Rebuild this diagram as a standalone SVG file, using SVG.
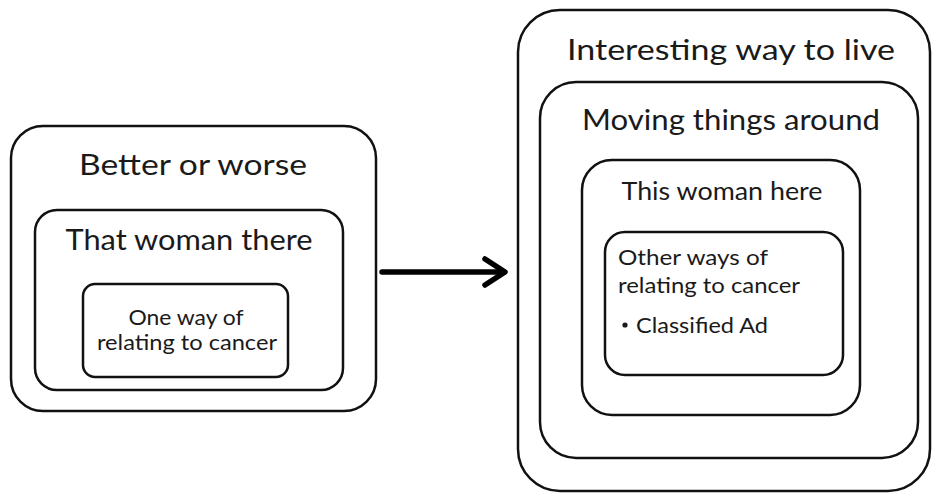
<svg xmlns="http://www.w3.org/2000/svg" width="933" height="493" viewBox="0 0 933 493">
  <style>
    .box { fill: none; stroke: #111; stroke-width: 2.5; }
    text { font-family: Lato, "Open Sans", "Liberation Sans", sans-serif; fill: #1a1a1a; }
    .t1 { font-size: 29px; text-anchor: middle; }
    .t2 { font-size: 25px; text-anchor: middle; }
    .t3 { font-size: 21px; }
    .mid { text-anchor: middle; }
    .conn { fill: none; stroke: #000; stroke-width: 5.5; stroke-linecap: round; stroke-linejoin: round; }
  </style>
  <rect width="933" height="493" fill="#fff"/>

  <!-- left nesting -->
  <g id="better-or-worse">
    <rect class="box" x="11" y="126" width="365" height="285" rx="32"/>
    <text class="t1" x="193" y="175" textLength="228" lengthAdjust="spacingAndGlyphs">Better or worse</text>
  </g>
  <g id="that-woman-there">
    <rect class="box" x="35" y="210" width="308" height="180" rx="22"/>
    <text class="t1" x="189" y="250" textLength="247" lengthAdjust="spacingAndGlyphs">That woman there</text>
  </g>
  <g id="one-way">
    <rect class="box" x="83" y="284" width="205" height="93" rx="12"/>
    <text class="t3 mid" x="186" y="325" textLength="115" lengthAdjust="spacingAndGlyphs">One way of</text>
    <text class="t3 mid" x="187" y="350" textLength="180" lengthAdjust="spacingAndGlyphs">relating to cancer</text>
  </g>

  <!-- right nesting -->
  <g id="interesting-way">
    <rect class="box" x="518" y="10" width="412" height="481" rx="42"/>
    <text class="t1" x="731" y="60" textLength="328" lengthAdjust="spacingAndGlyphs">Interesting way to live</text>
  </g>
  <g id="moving-things">
    <rect class="box" x="540" y="82" width="378" height="376" rx="36"/>
    <text class="t1" x="731" y="130" textLength="298" lengthAdjust="spacingAndGlyphs">Moving things around</text>
  </g>
  <g id="this-woman-here">
    <rect class="box" x="582" y="160" width="278" height="255" rx="30"/>
    <text class="t2" x="722" y="200" textLength="201" lengthAdjust="spacingAndGlyphs">This woman here</text>
  </g>
  <g id="other-ways">
    <rect class="box" x="605" y="232" width="238" height="143" rx="20"/>
    <text class="t3" x="618" y="265" textLength="150" lengthAdjust="spacingAndGlyphs">Other ways of</text>
    <text class="t3" x="618" y="293" textLength="182" lengthAdjust="spacingAndGlyphs">relating to cancer</text>
    <circle cx="625" cy="325" r="2.6" fill="#1a1a1a"/>
    <text class="t3" x="636" y="333" textLength="132" lengthAdjust="spacingAndGlyphs">Classified Ad</text>
  </g>

  <!-- connector -->
  <g id="connectors">
    <path class="conn" d="M382 272 H504"/>
    <path class="conn" d="M485 259 L505 272 L485 285"/>
  </g>
</svg>
